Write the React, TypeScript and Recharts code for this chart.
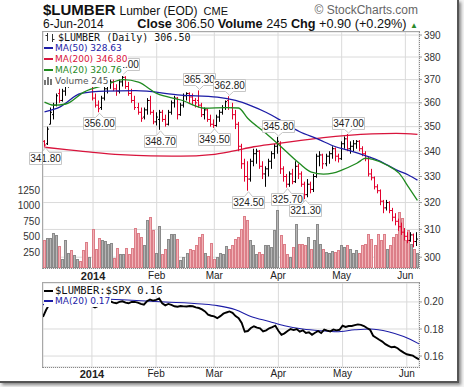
import React from "react";
import {
  ComposedChart,
  Bar,
  Line,
  Scatter,
  XAxis,
  YAxis,
  CartesianGrid,
} from "recharts";

// ---------------------------------------------------------------------------
// Data (daily bars, 9-Dec-2013 .. 6-Jun-2014)
// ---------------------------------------------------------------------------
const opens = [
  344, 343, 351, 355, 359, 364, 361, 365, 368, 370, 368, 372, 375, 373, 371, 369,
  368, 362, 359, 358, 362, 366, 368, 369, 366, 365, 369, 371, 367, 364,
  361, 358, 356, 354, 357, 361, 356, 352, 353, 356, 353, 351, 356, 360, 362, 355,
  359, 363, 364, 362.5, 361, 361, 359, 355, 357, 353, 351, 350.5, 354, 356, 358,
  361, 358, 355, 351, 342, 335, 330, 329, 336, 339, 340, 334, 331, 333, 336, 339,
  342, 343, 333, 330, 327, 331, 328, 334, 331, 327, 323, 327, 325, 330, 338, 338.5,
  335, 338, 339, 341, 338, 337, 343, 345, 341, 342, 343, 344, 341, 339, 337, 331,
  329.5, 326, 324.5, 320.5, 318, 320, 317, 314.5, 313, 311, 309, 307.5, 306, 308,
  305.6,
];
const highs = [
  344.5, 350, 358, 360, 364, 366, 366, 368, 371, 372, 373, 376, 377, 374, 372, 373,
  368.5, 364, 361, 363, 367, 369, 370, 370, 368, 370, 372, 371.5, 369, 366,
  363, 360, 358, 358, 362, 363, 357, 356, 357, 357, 355, 357, 361, 363, 362.5, 360,
  364, 364.5, 364.5, 364, 362, 365.3, 360, 358, 357.5, 355, 353, 355, 357, 359, 361,
  362.8, 360, 357, 352, 343, 337, 336, 337, 341, 341, 340.5, 336, 334, 337, 340, 343,
  345.8, 344, 334, 331, 332, 333, 336, 335, 332, 328, 329, 328, 331, 339, 340,
  339, 339, 340, 342, 341.5, 339, 344, 346, 347, 344, 344.5, 344.5, 344.5, 342, 340,
  338, 333, 330, 327, 325, 321, 321, 320.5, 318, 316, 314, 312.5, 310.5, 309, 309,
  308.5, 309,
];
const lows = [
  341.8, 342.5, 351, 353, 358.5, 360, 360.5, 363, 366.5, 367, 367.5, 371, 372, 370,
  368, 368.5, 361, 358, 356, 357, 361, 364, 366, 365, 363, 364, 367, 366, 363, 360,
  357, 355, 352, 353, 355, 355, 351, 350.5, 348.7, 352, 350, 350.5, 355, 358, 353,
  354.5, 358, 361, 360, 359, 358, 358, 354, 353, 352, 350, 349.5, 350, 352, 355, 357,
  357, 353, 349, 340, 333, 328, 324.5, 328, 334, 335, 333, 329, 326, 330, 333, 337,
  339, 331, 328, 325.7, 326, 327, 327.5, 329, 326, 321.3, 322, 323.5, 324, 329.5, 334,
  333, 334, 335, 337, 336, 335.5, 336.5, 341, 340, 339, 340, 341, 340, 338, 336, 330,
  328.5, 325, 323.5, 319, 316, 317, 316, 313, 311.5, 309.5, 308, 306, 305, 305.5,
  303.5, 304,
];
const closes = [
  342.5, 349, 356, 359, 363, 361, 365, 367, 370, 368, 372, 375, 373, 371, 369, 372,
  362, 359, 357.5, 362, 366, 368, 369, 366, 365, 369, 371, 367, 364, 361,
  358, 356, 353.5, 357, 361, 356, 352, 354, 356, 353, 351, 356, 360, 362, 355, 359,
  363, 364, 362.5, 361, 360, 359, 355, 357, 353, 351, 350.5, 354, 356, 358, 360.5,
  358, 355, 351, 342, 335, 330, 329, 336, 339, 340, 334, 331, 333, 336, 339, 342,
  344, 333, 330, 327, 331, 328, 334, 331, 327, 323, 327, 325, 330, 338, 338.5,
  335, 338, 339, 341, 338, 337, 343, 345, 341, 342, 343, 344, 341, 339, 337, 331,
  329.5, 326, 324.5, 320.5, 318, 320, 317, 314.5, 313, 311, 309, 307.5, 306, 308,
  305.6, 306.5,
];
const volumes = [
  444, 487, 487, 568, 524, 347, 148, 444, 245, 282, 202, 148, 110, 293, 417, 175,
  632, 309, 487, 455, 433, 379, 401, 160, 330, 220, 220, 330, 230, 330,
  650, 560, 497, 363, 766, 814, 605, 239, 669, 229, 309, 471, 540, 552, 471, 132,
  174, 239, 309, 293, 363, 497, 540, 239, 200, 401, 148, 180, 239, 229, 347,
  309, 363, 471, 497, 632, 831, 766, 444, 363, 229, 255, 229, 363, 363, 336, 605,
  938, 524, 390, 229, 185, 336, 713, 390, 390, 363, 497, 309, 444, 713, 390,
  309, 255, 239, 271, 255, 282, 363, 336, 363, 309, 239, 282, 239, 363, 390, 552,
  471, 363, 552, 444, 552, 309, 363, 497, 552, 900, 810, 444, 605, 390, 309, 245,
];

// moving averages: [bar index, value]
const ma20Pts: [number, number][] = [
  [0, 360.3], [3, 359.0], [7, 359.5], [13, 364.6], [20, 367.6], [26, 370.0],
  [31, 368.9], [37, 364.0], [45, 361.2], [53, 357.7], [60, 358.0], [64, 357.8],
  [67, 353.5], [73, 347.3], [78, 341.8], [84, 335.2], [88, 331.7], [92, 330.9],
  [95, 331.3], [98, 332.5], [103, 335.2], [106, 337.2], [108, 336.8], [113, 334.4],
  [117, 331.2], [120, 326.0], [123, 320.8],
];
const ma50Pts: [number, number][] = [
  [0, 356.2], [5, 358.2], [12, 364.0], [20, 365.0], [30, 365.2], [45, 363.3],
  [57, 362.4], [63, 361.0], [68, 358.8], [73, 356.0], [78, 352.5], [84, 348.0],
  [90, 345.0], [96, 341.8], [100, 340.4], [107, 337.7], [110, 336.4], [116, 332.6],
  [120, 330.6], [123, 328.6],
];
const ma200Pts: [number, number][] = [
  [0, 341.6], [8, 340.5], [16, 339.5], [25, 338.6], [35, 338.1], [45, 338.0],
  [55, 338.6], [62, 340.0], [69, 341.8], [76, 343.0], [84, 344.3], [92, 345.5],
  [100, 346.4], [108, 347.0], [116, 347.2], [123, 346.8],
];

// $LUMBER:$SPX ratio
const ratio = [
  0.189, 0.194, 0.198, 0.199, 0.2, 0.2005, 0.201, 0.2012, 0.2008, 0.2, 0.2004, 0.201,
  0.2005, 0.1995, 0.1985, 0.198, 0.197, 0.196, 0.197, 0.202, 0.2017, 0.201, 0.2005,
  0.1995, 0.199, 0.2, 0.2005, 0.1995, 0.199, 0.2, 0.2, 0.1995, 0.1985, 0.198, 0.2005,
  0.2017, 0.201, 0.2015, 0.2025, 0.199, 0.1975, 0.1985, 0.1978, 0.1968, 0.1965, 0.197,
  0.1967, 0.1966, 0.197, 0.1968, 0.196, 0.1955, 0.1945, 0.193, 0.1906, 0.1898, 0.1893,
  0.188, 0.1895, 0.1913, 0.1922, 0.193, 0.192, 0.1895, 0.188, 0.1844, 0.178, 0.1785,
  0.1807, 0.182, 0.181, 0.1805, 0.1782, 0.179, 0.1805, 0.1814, 0.1824, 0.1787, 0.1757,
  0.1768, 0.1785, 0.18, 0.1792, 0.18, 0.178, 0.179, 0.177, 0.1775, 0.1757, 0.1772,
  0.1785, 0.177, 0.1795, 0.1788, 0.1782, 0.1796, 0.179, 0.1794, 0.1824, 0.1815, 0.1822,
  0.1822, 0.1828, 0.1834, 0.183, 0.1822, 0.1807, 0.1794, 0.175, 0.1735, 0.172, 0.1707,
  0.1688, 0.1675, 0.1665, 0.1668, 0.1658, 0.164, 0.1625, 0.1613, 0.1608, 0.1603,
  0.1588, 0.1576,
];
const ratioMa20Pts: [number, number][] = [
  [0, 0.198], [10, 0.2005], [19, 0.2022], [29, 0.2012], [40, 0.2], [52, 0.1985],
  [57, 0.1973], [63, 0.1943], [68, 0.1893], [74, 0.1856], [79, 0.1824], [85, 0.18],
  [91, 0.1787], [96, 0.178], [102, 0.1794], [107, 0.18], [113, 0.178], [118, 0.1744],
  [123, 0.169],
];

// labelled highs / lows
const annotations: [number, "hi" | "lo"][] = [
  [0, "lo"], [18, "lo"], [26, "hi"], [38, "lo"], [51, "hi"], [56, "lo"],
  [61, "hi"], [67, "lo"], [77, "hi"], [80, "lo"], [86, "lo"], [100, "hi"],
];

const monthTicks = [16, 37, 56, 77, 98, 119];
const monthLabels = ["2014", "Feb", "Mar", "Apr", "May", "Jun"];
const priceTicks = [300, 310, 320, 330, 340, 350, 360, 370, 380, 390];
const volumeTicks = [250, 500, 750, 1000, 1250];
const ratioTicks = [0.16, 0.18, 0.2];

// ---------------------------------------------------------------------------
// Styles
// ---------------------------------------------------------------------------
const RED = "#e2002d";
const BLUE = "#1c1ca6";
const GREEN = "#1f8a1f";
const CRIMSON = "#d8143c";
const GRID = "#dadada";
const SANS = "'Liberation Sans', Arial, sans-serif";
const VERDANA = "'DejaVu Sans', Verdana, sans-serif";
const MONO = "'DejaVu Sans Mono', 'Liberation Mono', monospace";

const ma20Map = new Map(ma20Pts);
const ma50Map = new Map(ma50Pts);
const ma200Map = new Map(ma200Pts);
const ratioMaMap = new Map(ratioMa20Pts);
const annMap = new Map(annotations);

const data = closes.map((c, i) => {
  const prev = i === 0 ? opens[0] : closes[i - 1];
  const ann = annMap.get(i);
  return {
    i,
    o: opens[i],
    h: highs[i],
    l: lows[i],
    c,
    range: [lows[i], highs[i]],
    up: c >= prev,
    vol: volumes[i],
    ma20: ma20Map.get(i) ?? null,
    ma50: ma50Map.get(i) ?? null,
    ma200: ma200Map.get(i) ?? null,
    ratio: ratio[i],
    ratioMa: ratioMaMap.get(i) ?? null,
    ann,
    annV: ann ? (ann === "hi" ? highs[i] : lows[i]) : null,
  };
});

// ---------------------------------------------------------------------------
// Shapes
// ---------------------------------------------------------------------------
function VolumeBar(props: any) {
  const { x, y, width, height, payload } = props;
  if (!height || height <= 0) return <g />;
  const x0 = Math.round(x);
  const w = Math.max(1, Math.round(x + width) - x0 - 1);
  return (
    <rect
      x={x0 + 0.5}
      y={Math.round(y) + 0.5}
      width={w}
      height={Math.max(0, Math.round(y + height) - Math.round(y) - 1)}
      fill={payload.up ? "#b6b6b6" : "#f1b2b7"}
      stroke={payload.up ? "#8a8a8a" : "#dc7e88"}
      strokeWidth={1}
    />
  );
}

function OhlcBar(props: any) {
  const { x, y, width, height, payload } = props;
  if (height == null || !payload) return <g />;
  const top = Math.min(y, y + height);
  const span = Math.abs(height);
  const cx = Math.round(x + width / 2) - 0.5;
  const lnH = Math.log(payload.h);
  const lnL = Math.log(payload.l);
  const pos = (v: number) => top + (span * (lnH - Math.log(v))) / (lnH - lnL || 1);
  const col = payload.up ? "#000" : RED;
  return (
    <g>
      <line x1={cx} x2={cx} y1={top} y2={top + Math.max(span, 1)} stroke={col} strokeWidth={1} />
      <line x1={cx - 1.5} x2={cx} y1={pos(payload.o)} y2={pos(payload.o)} stroke={col} strokeWidth={1} />
      <line x1={cx} x2={cx + 1.5} y1={pos(payload.c)} y2={pos(payload.c)} stroke={col} strokeWidth={1} />
    </g>
  );
}

function AnnotationLabel(props: any) {
  const { cx, cy, payload } = props;
  if (!payload || !payload.ann || !Number.isFinite(cy)) return <g />;
  const text = (payload.ann === "hi" ? payload.h : payload.l).toFixed(2);
  const w = 32;
  const hgt = 12;
  const left = Math.round(cx - w / 2) + 0.5;
  const px = Math.round(cx) + 0.5;
  let d: string;
  let ty: number;
  if (payload.ann === "hi") {
    const bottom = Math.round(cy - 5) + 0.5;
    const topY = bottom - hgt;
    d = `M${left},${topY}h${w}V${bottom}H${px + 4}L${px},${cy - 1}L${px - 4},${bottom}H${left}Z`;
    ty = topY + hgt / 2;
  } else {
    const topY = Math.round(cy + 5) + 0.5;
    d = `M${left},${topY}H${px - 4}L${px},${cy + 1}L${px + 4},${topY}H${left + w}V${topY + hgt}H${left}Z`;
    ty = topY + hgt / 2;
  }
  return (
    <g>
      <path d={d} fill="#fff" stroke="#c6c6c6" strokeWidth={1} />
      <text x={left + w / 2} y={ty + 3.6} textAnchor="middle" fontSize={10} fontFamily={SANS} fill="#222">
        {text}
      </text>
    </g>
  );
}

function MonthTick(props: any) {
  const { x, y, payload } = props;
  const label = monthLabels[monthTicks.indexOf(payload.value)] ?? "";
  const bold = label === "2014";
  return (
    <text
      x={x}
      y={y}
      dy="0.71em"
      textAnchor="middle"
      fontSize={bold ? 11 : 10}
      fontWeight={bold ? "bold" : "normal"}
      fontFamily={SANS}
      fill="#222"
    >
      {label}
    </text>
  );
}

// ---------------------------------------------------------------------------
// Legend bits
// ---------------------------------------------------------------------------
function Swatch({ color }: { color: string }) {
  return (
    <span
      style={{
        display: "inline-block",
        width: 9,
        height: 2,
        background: color,
        verticalAlign: "middle",
        marginRight: 2,
        marginBottom: 1,
      }}
    />
  );
}

function LegendRow({
  top,
  font = VERDANA,
  size = 9,
  children,
}: {
  top: number;
  font?: string;
  size?: number;
  children: React.ReactNode;
}) {
  return (
    <div
      style={{
        position: "absolute",
        left: 44,
        top,
        height: 11,
        lineHeight: "11px",
        background: "#fff",
        fontFamily: font,
        fontSize: size,
        whiteSpace: "nowrap",
        paddingRight: 1,
      }}
    >
      {children}
    </div>
  );
}

const tickStyle = { fontSize: 10, fill: "#333", fontFamily: SANS };

// ---------------------------------------------------------------------------
// Component
// ---------------------------------------------------------------------------
export default function App() {
  return (
    <div
      style={{
        position: "fixed",
        left: 0,
        top: 0,
        width: 464,
        height: 387,
        background: "#f4f4f4",
        overflow: "hidden",
      }}
    >
      {/* card */}
      <div
        style={{
          position: "absolute",
          left: 0,
          top: 0,
          width: 459,
          height: 383,
          background: "#fff",
          boxSizing: "border-box",
          borderRight: "2px solid #555",
          borderBottom: "2px solid #555",
          boxShadow: "2px 2px 3px rgba(0,0,0,0.45)",
        }}
      />

      {/* header */}
      <div
        style={{
          position: "absolute",
          left: 43,
          top: 2,
          height: 16,
          lineHeight: "16px",
          fontFamily: SANS,
          whiteSpace: "nowrap",
        }}
      >
        <span style={{ fontSize: 15, fontWeight: "bold", color: "#111" }}>$LUMBER</span>
        <span style={{ fontSize: 12, color: "#111", marginLeft: 4 }}>Lumber (EOD)</span>
        <span style={{ fontSize: 11, color: "#111", marginLeft: 6 }}>CME</span>
      </div>
      <div
        style={{
          position: "absolute",
          right: 46,
          top: 3,
          height: 14,
          lineHeight: "14px",
          fontFamily: SANS,
          fontSize: 12,
          color: "#666",
          whiteSpace: "nowrap",
        }}
      >
        © StockCharts.com
      </div>
      <div
        style={{
          position: "absolute",
          left: 43,
          top: 18,
          height: 13,
          lineHeight: "13px",
          fontFamily: SANS,
          fontSize: 12,
          color: "#111",
        }}
      >
        6-Jun-2014
      </div>
      <div
        style={{
          position: "absolute",
          right: 46,
          top: 18,
          height: 13,
          lineHeight: "13px",
          fontFamily: SANS,
          fontSize: 12.7,
          color: "#111",
          whiteSpace: "nowrap",
        }}
      >
        <b>Close</b> 306.50 <b>Volume</b> 245 <b>Chg</b> +0.90 (+0.29%){" "}
        <span style={{ color: "#2a8a2a", fontSize: 8 }}>▲</span>
      </div>

      {/* price panel */}
      <div style={{ position: "absolute", left: 0, top: 0 }}>
        <ComposedChart
          width={464}
          height={282}
          data={data}
          margin={{ top: 32, right: 0, bottom: 0, left: 0 }}
          barCategoryGap={0}
          barGap={0}
        >
          <CartesianGrid xAxisId="p" yAxisId="price" stroke={GRID} />
          <XAxis
            xAxisId="p"
            dataKey="i"
            type="category"
            ticks={monthTicks}
            interval={0}
            tick={<MonthTick />}
            tickLine={false}
            axisLine={false}
            tickSize={2}
            tickMargin={2}
            height={14}
          />
          <XAxis xAxisId="v" dataKey="i" type="category" hide />
          <YAxis
            yAxisId="vol"
            orientation="left"
            domain={[0, 3800]}
            ticks={volumeTicks}
            interval={0}
            width={43}
            axisLine={false}
            tickLine={false}
            tickSize={0}
            tickMargin={3}
            tick={tickStyle}
          />
          <YAxis
            yAxisId="price"
            orientation="right"
            scale="log"
            domain={[296.2, 391.4]}
            allowDataOverflow
            ticks={priceTicks}
            interval={0}
            width={45}
            axisLine={false}
            tickLine={{ stroke: "#999" }}
            tickSize={3}
            tickMargin={2}
            tick={tickStyle}
          />
          <Bar xAxisId="v" yAxisId="vol" dataKey="vol" shape={<VolumeBar />} isAnimationActive={false} />
          <Bar xAxisId="p" yAxisId="price" dataKey="range" shape={<OhlcBar />} isAnimationActive={false} />
          <Line xAxisId="p" yAxisId="price" dataKey="ma200" stroke={CRIMSON} strokeWidth={1.3} dot={false} connectNulls type="monotone" isAnimationActive={false} />
          <Line xAxisId="p" yAxisId="price" dataKey="ma50" stroke={BLUE} strokeWidth={1.3} dot={false} connectNulls type="monotone" isAnimationActive={false} />
          <Line xAxisId="p" yAxisId="price" dataKey="ma20" stroke={GREEN} strokeWidth={1.3} dot={false} connectNulls type="monotone" isAnimationActive={false} />
          <Scatter xAxisId="p" yAxisId="price" dataKey="annV" shape={<AnnotationLabel />} isAnimationActive={false} />
        </ComposedChart>
      </div>

      {/* price panel frame */}
      <div
        style={{
          position: "absolute",
          left: 42,
          top: 31,
          width: 378,
          height: 238,
          boxSizing: "border-box",
          borderLeft: "1px solid #a8a8a8",
          borderTop: "1px solid #a8a8a8",
          borderRight: "1px dotted #888",
          borderBottom: "1px dotted #888",
          pointerEvents: "none",
        }}
      />

      {/* price legend */}
      <LegendRow top={32} font={MONO} size={10}>
        <svg width={10} height={9} style={{ verticalAlign: "-1px", marginRight: 3, marginLeft: 1 }}>
          <line x1={2.5} x2={2.5} y1={0} y2={8} stroke="#333" />
          <line x1={0.5} x2={2.5} y1={2.5} y2={2.5} stroke="#333" />
          <line x1={7.5} x2={7.5} y1={1} y2={9} stroke="#333" />
          <line x1={7.5} x2={9.5} y1={6.5} y2={6.5} stroke="#333" />
        </svg>
        <span style={{ color: "#111" }}>$LUMBER (Daily) 306.50</span>
      </LegendRow>
      <LegendRow top={43}>
        <Swatch color={BLUE} />
        <span style={{ color: BLUE }}>MA(50) 328.63</span>
      </LegendRow>
      <LegendRow top={54}>
        <Swatch color={CRIMSON} />
        <span style={{ color: CRIMSON }}>MA(200) 346.80</span>
      </LegendRow>
      <LegendRow top={65}>
        <Swatch color={GREEN} />
        <span style={{ color: GREEN }}>MA(20) 320.76</span>
      </LegendRow>
      <LegendRow top={76}>
        <svg width={10} height={9} style={{ verticalAlign: "-1px", marginRight: 1 }}>
          <rect x={0} y={4} width={2} height={5} fill="#777" />
          <rect x={3} y={1} width={2} height={8} fill="#777" />
          <rect x={6} y={3} width={2} height={6} fill="#777" />
        </svg>
        <span style={{ color: "#555" }}>Volume 245</span>
      </LegendRow>

      {/* ratio panel */}
      <div style={{ position: "absolute", left: 0, top: 270 }}>
        <ComposedChart width={464} height={112} data={data} margin={{ top: 13, right: 0, bottom: 0, left: 0 }}>
          <CartesianGrid yAxisId="ratio" stroke={GRID} />
          <XAxis
            dataKey="i"
            type="category"
            ticks={monthTicks}
            interval={0}
            tick={<MonthTick />}
            tickLine={false}
            axisLine={false}
            tickSize={1}
            tickMargin={2}
            height={15}
          />
          <YAxis yAxisId="pad" orientation="left" width={43} tick={false} axisLine={false} tickLine={false} />
          <YAxis
            yAxisId="ratio"
            orientation="right"
            domain={[0.1519, 0.214]}
            allowDataOverflow
            ticks={ratioTicks}
            interval={0}
            tickFormatter={(v: number) => v.toFixed(2)}
            width={45}
            axisLine={false}
            tickLine={{ stroke: "#999" }}
            tickSize={3}
            tickMargin={2}
            tick={tickStyle}
          />
          <Line yAxisId="ratio" dataKey="ratioMa" stroke={BLUE} strokeWidth={1.1} dot={false} connectNulls type="monotone" isAnimationActive={false} />
          <Line yAxisId="ratio" dataKey="ratio" stroke="#000" strokeWidth={1.9} dot={false} type="linear" isAnimationActive={false} />
        </ComposedChart>
      </div>

      {/* ratio panel frame */}
      <div
        style={{
          position: "absolute",
          left: 42,
          top: 282,
          width: 378,
          height: 86,
          boxSizing: "border-box",
          borderLeft: "1px solid #a8a8a8",
          borderTop: "1px solid #a8a8a8",
          borderRight: "1px dotted #888",
          borderBottom: "1px dotted #888",
          pointerEvents: "none",
        }}
      />

      {/* ratio legend */}
      <LegendRow top={285} font={MONO} size={10.5}>
        <Swatch color="#000" />
        <span style={{ color: "#111" }}>$LUMBER:$SPX 0.16</span>
      </LegendRow>
      <LegendRow top={296}>
        <Swatch color={BLUE} />
        <span style={{ color: BLUE }}>MA(20) 0.17</span>
      </LegendRow>
    </div>
  );
}
